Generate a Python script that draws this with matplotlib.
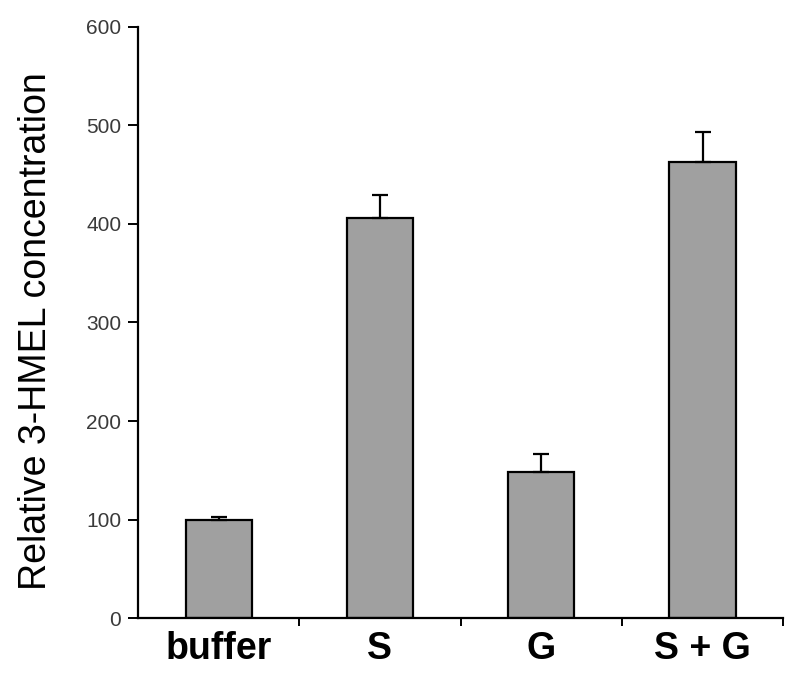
import matplotlib

matplotlib.use("Agg")
import matplotlib.pyplot as plt
import numpy as np

CATEGORIES = ["buffer", "S", "G", "S + G"]
VALUES = [99, 406, 148, 463]
ERRORS = [4, 23, 18, 30]

plt.rcParams["font.family"] = ["Liberation Sans", "DejaVu Sans"]

fig = plt.figure(figsize=(8.0, 6.85), dpi=100)
ax = fig.add_axes([0.1725, 0.0978, 0.8065, 0.8628])

x = np.arange(len(CATEGORIES))
ax.bar(
    x,
    VALUES,
    width=0.41,
    color="#a0a0a0",
    edgecolor="black",
    linewidth=1.6,
    zorder=2,
)
ax.errorbar(
    x,
    VALUES,
    yerr=[np.zeros(len(ERRORS)), ERRORS],
    fmt="none",
    ecolor="black",
    elinewidth=1.6,
    capsize=5.5,
    capthick=1.6,
    zorder=3,
)

ax.set_xlim(-0.5, len(CATEGORIES) - 0.5)
ax.set_ylim(0, 600)
ax.set_yticks(range(0, 601, 100))
ax.set_xticks(x)
ax.set_xticklabels(CATEGORIES, fontsize=27, fontweight="bold")
ax.set_xticks(np.arange(len(CATEGORIES)) + 0.5, minor=True)
ax.tick_params(axis="x", which="major", length=0, pad=9)
ax.tick_params(axis="x", which="minor", length=6, width=1.4, direction="out")
ax.tick_params(axis="y", length=7, width=1.4, labelsize=15, labelcolor="#3a3a3a", pad=5)
ax.set_ylabel("Relative 3-HMEL concentration", fontsize=27, labelpad=20)
ax.yaxis.set_label_coords(-0.13, 0.485)

for side in ("top", "right"):
    ax.spines[side].set_visible(False)
for side in ("left", "bottom"):
    ax.spines[side].set_linewidth(1.6)

fig.savefig("out.png", dpi=100)
